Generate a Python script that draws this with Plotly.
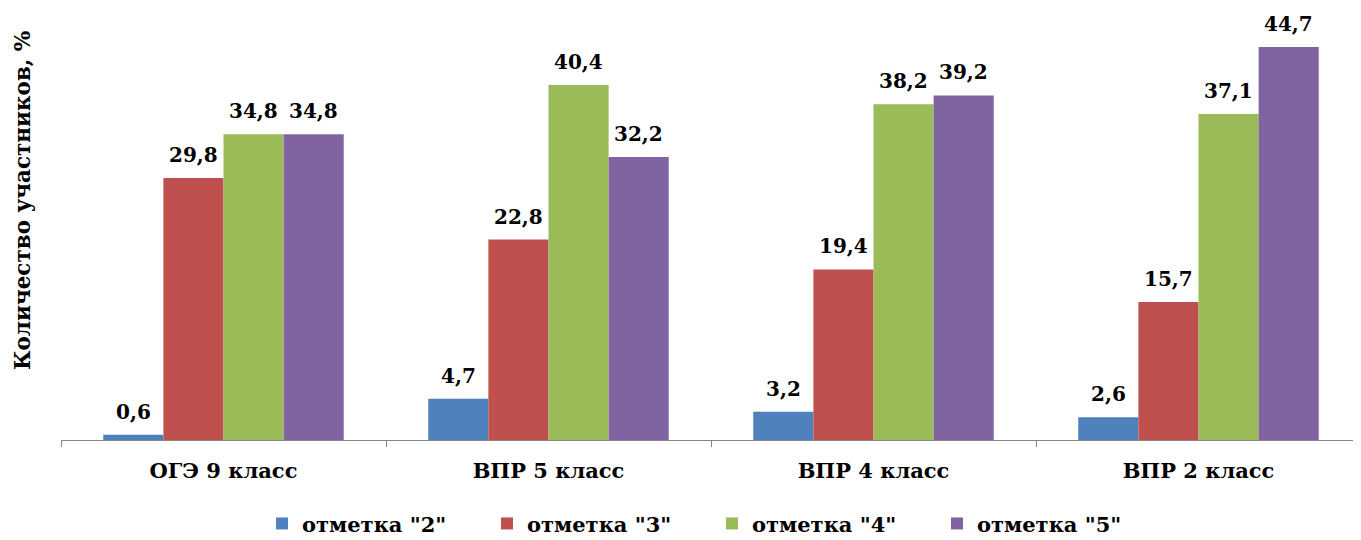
import plotly.graph_objects as go

categories = ["ОГЭ 9 класс", "ВПР 5 класс", "ВПР 4 класс", "ВПР 2 класс"]
series_names = ['отметка "2"', 'отметка "3"', 'отметка "4"', 'отметка "5"']
mark2 = [0.6, 4.7, 3.2, 2.6]
mark3 = [29.8, 22.8, 19.4, 15.7]
mark4 = [34.8, 40.4, 38.2, 37.1]
mark5 = [34.8, 32.2, 39.2, 44.7]
colors = ["#4F81BD", "#C0504D", "#9BBB59", "#8064A2"]

FONT = "DejaVu Serif"

fig = go.Figure()
all_series = [mark2, mark3, mark4, mark5]
for name, vals, col in zip(series_names, all_series, colors):
    fig.add_trace(go.Bar(
        name=name, x=categories, y=vals,
        marker=dict(color=col, line=dict(width=0)),
        cliponaxis=False,
    ))

# data labels above each bar (bar width is 60 px)
bar_offsets = [-90, -30, 30, 90]
for vals, dx in zip(all_series, bar_offsets):
    for cat, v in zip(categories, vals):
        fig.add_annotation(x=cat, y=v, xref="x", yref="y", text=f"{v:.1f}".replace(".", ","),
                           showarrow=False, xanchor="center", yanchor="bottom",
                           xshift=dx, yshift=9,
                           font=dict(family=FONT, size=20, color="black", weight="bold"))

W, H = 1353, 532
fig.update_layout(
    width=W, height=H,
    margin=dict(l=53, r=0, t=0, b=100, autoexpand=False),
    paper_bgcolor="white", plot_bgcolor="white",
    font=dict(family=FONT, color="black"),
    barmode="group", bargap=0.26, bargroupgap=0,
    separators=", ",
    showlegend=True,
    legend=dict(orientation="h", x=(262 - 8 - 53) / 1300, xanchor="left", y=-0.194, yanchor="middle",
                font=dict(family=FONT, size=21, color="black", weight="bold"),
                itemwidth=30, entrywidth=180, traceorder="normal"),
    xaxis=dict(showline=True, linecolor="#878787", linewidth=1,
               ticks="outside", tickson="boundaries", ticklen=6, tickcolor="#878787",
               tickfont=dict(family=FONT, size=21, color="black", weight="bold"),
               ticklabelstandoff=12,
               showgrid=False, zeroline=False, automargin=False),
    yaxis=dict(range=[0, 49.15], visible=False, showgrid=False, zeroline=False, automargin=False),
)

fig.add_annotation(text="Количество участников, %", xref="paper", yref="paper",
                   x=(14 - 53) / 1300, y=0.553, xanchor="center", yanchor="middle",
                   textangle=-90, showarrow=False,
                   font=dict(family=FONT, size=21.5, color="black", weight="bold"))

fig.write_html("out.html")
